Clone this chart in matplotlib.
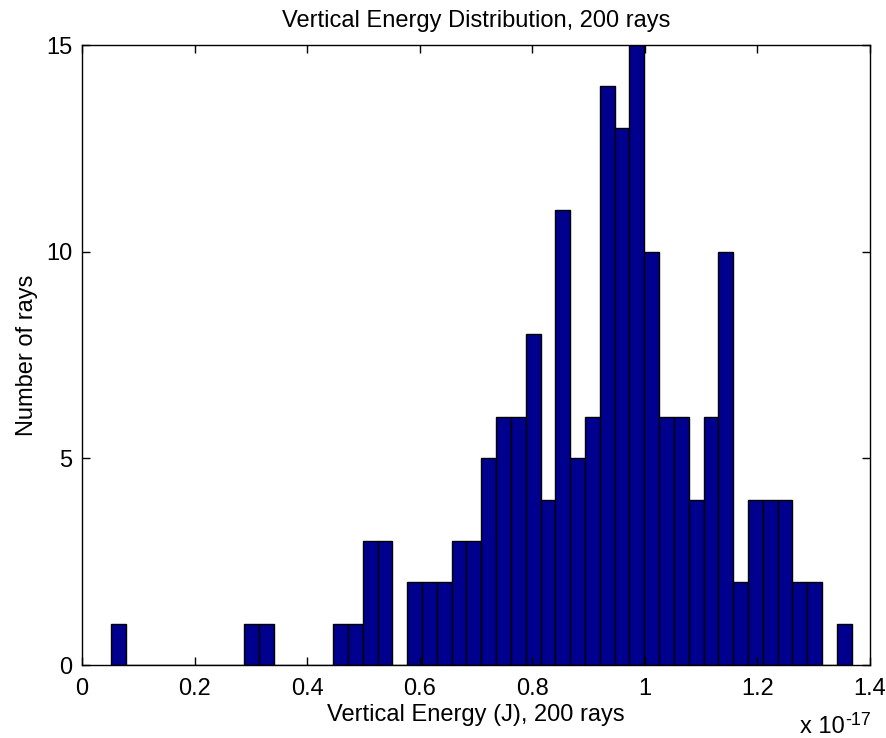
import numpy as np
import matplotlib
matplotlib.use("Agg")
import matplotlib.pyplot as plt

plt.rcParams['font.family'] = ['Liberation Sans', 'DejaVu Sans']
FS = 17

# Histogram data (energy in units of 1e-17 J)
energy_min = 0.0513
energy_max = 1.3675
counts = [1, 0, 0, 0, 0, 0, 0, 0, 0, 1,
          1, 0, 0, 0, 0, 1, 1, 3, 3, 0,
          2, 2, 2, 3, 3, 5, 6, 6, 8, 4,
          11, 5, 6, 14, 13, 15, 10, 6, 6, 4,
          6, 10, 2, 4, 4, 4, 2, 2, 0, 1]
x_ticks = [0, 0.2, 0.4, 0.6, 0.8, 1.0, 1.2, 1.4]
x_tick_labels = ['0', '0.2', '0.4', '0.6', '0.8', '1', '1.2', '1.4']
y_ticks = [0, 5, 10, 15]

edges = np.linspace(energy_min, energy_max, len(counts) + 1)
widths = np.diff(edges)

fig = plt.figure(figsize=(8.87, 7.38), dpi=100)
ax = fig.add_axes([0.0924, 0.0989, 0.8884, 0.8401])
ax.bar(edges[:-1], counts, width=widths, align='edge',
       color='#00008F', edgecolor='black', linewidth=1.0)

ax.set_xlim(0, 1.4)
ax.set_ylim(0, 15)
ax.set_xticks(x_ticks)
ax.set_xticklabels(x_tick_labels)
ax.set_yticks(y_ticks)
ax.tick_params(direction='in', top=True, right=True, length=6, width=1,
               labelsize=FS, colors='black')
ax.tick_params(axis='x', pad=9)
ax.tick_params(axis='y', pad=7)
for s in ax.spines.values():
    s.set_linewidth(1.0)

ax.set_title('Vertical Energy Distribution, 200 rays', fontsize=FS, pad=13)
ax.set_xlabel('Vertical Energy (J), 200 rays', fontsize=FS, labelpad=3.5)
ax.set_ylabel('Number of rays', fontsize=FS, labelpad=6)
fig.text(800 / 887, (738 - 733) / 738, 'x 10', fontsize=FS,
         ha='left', va='baseline')
fig.text(845 / 887, (738 - 725) / 738, '-17', fontsize=13,
         ha='left', va='baseline')

fig.savefig('out.png', dpi=100)
